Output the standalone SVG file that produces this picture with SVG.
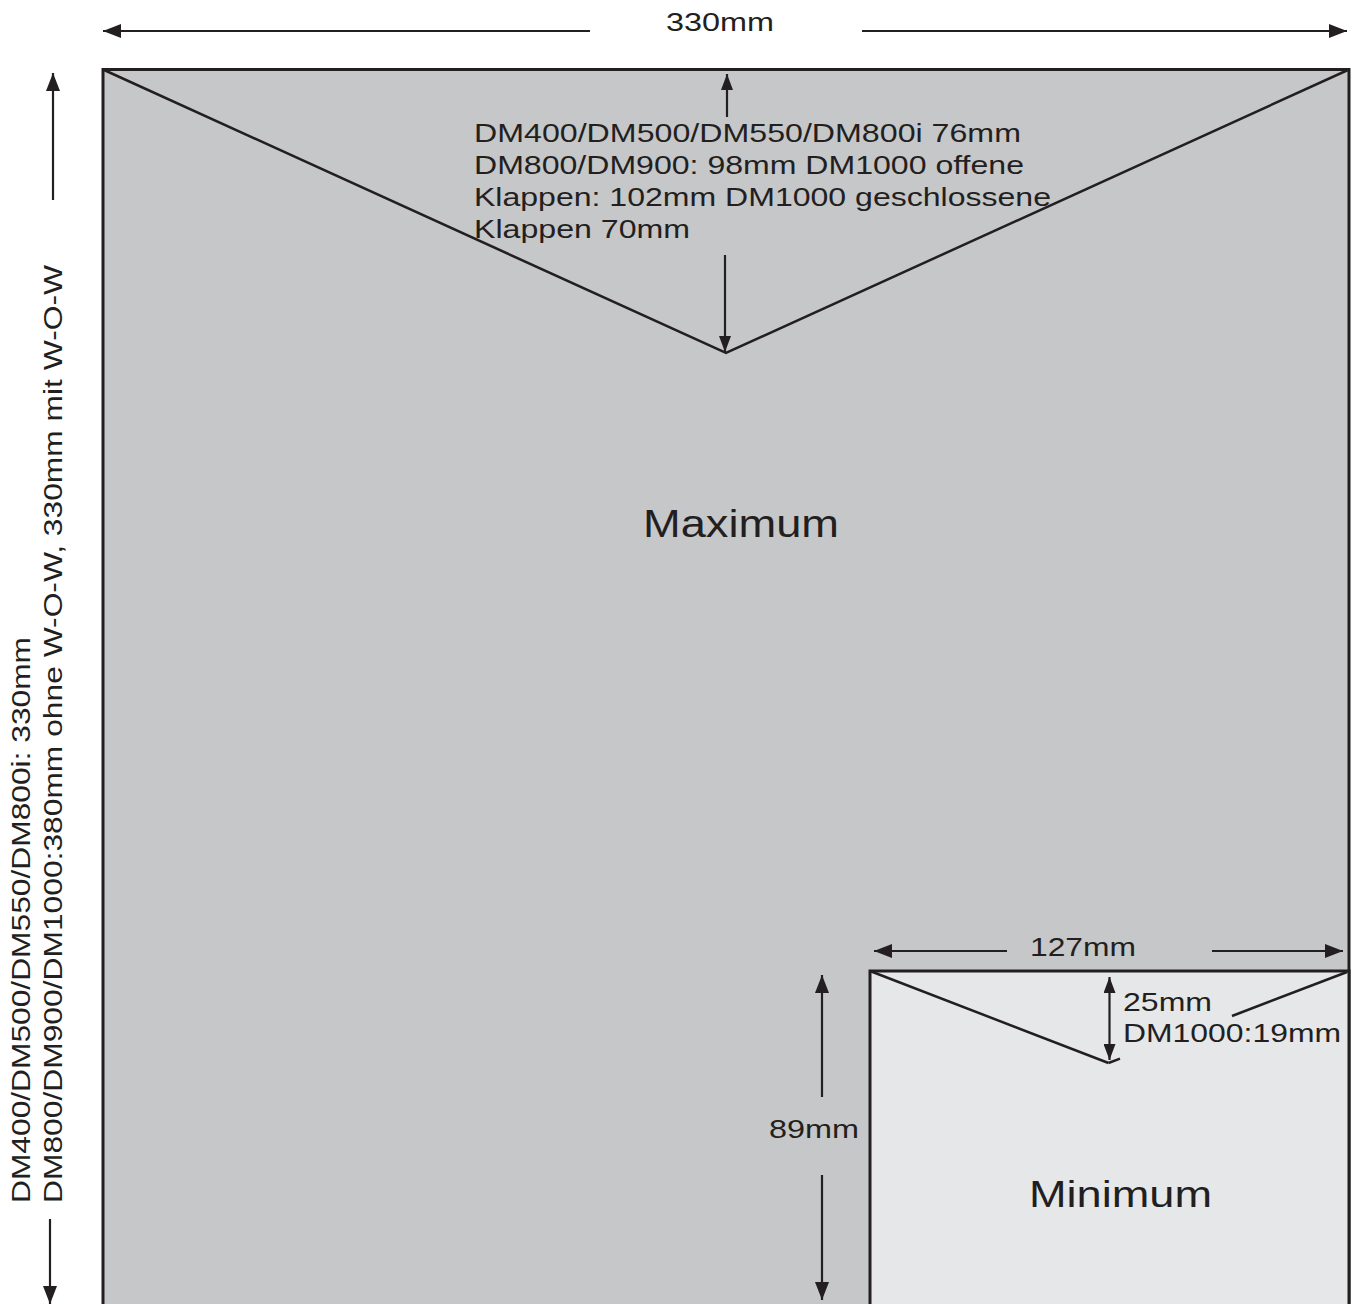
<svg xmlns="http://www.w3.org/2000/svg" width="1357" height="1304" viewBox="0 0 1357 1304">
  <defs>
    <marker id="ah" viewBox="0 0 18 14" refX="18" refY="7" markerWidth="18" markerHeight="14" markerUnits="userSpaceOnUse" orient="auto-start-reverse">
      <path d="M0,0 L18,7 L0,14 z" fill="#231f20"/>
    </marker>
    <marker id="ahs" viewBox="0 0 16 12" refX="16" refY="6" markerWidth="16" markerHeight="12" markerUnits="userSpaceOnUse" orient="auto-start-reverse">
      <path d="M0,0 L16,6 L0,12 z" fill="#231f20"/>
    </marker>
  </defs>
  <style>
    .t { font-family: "Liberation Sans", Arial, sans-serif; fill: #231f20; font-size: 26px; }
    .v { font-size: 26.5px; }
    .big { font-size: 38px; }
    .env { stroke: #231f20; stroke-width: 3; }
    .fold { stroke: #231f20; stroke-width: 2.5; fill: none; }
    .dim { stroke: #231f20; stroke-width: 2.2; fill: none; }
  </style>
  <rect width="1357" height="1304" fill="#ffffff"/>

  <g id="maximum">
    <rect class="env" x="103" y="69.5" width="1246" height="1250" fill="#c6c7c9"/>
    <polyline class="fold" points="103,69.5 726,353 1349,69.5"/>
    <text class="t big" transform="translate(643,537) scale(1.19,1)" x="0" y="0" textLength="164.7" lengthAdjust="spacingAndGlyphs">Maximum</text>
  </g>

  <g id="minimum">
    <rect class="env" x="870" y="971" width="479" height="350" fill="#e6e7e9"/>
    <line class="fold" x1="870" y1="971" x2="1108.5" y2="1063"/>
    <line class="fold" x1="1108.5" y1="1063" x2="1120" y2="1058.6"/>
    <line class="fold" x1="1232" y1="1016" x2="1347" y2="972"/>
    <text class="t" transform="translate(1029,1207) scale(1.25,1)" x="0" y="0" textLength="146.4" lengthAdjust="spacingAndGlyphs" style="font-size:36px">Minimum</text>
  </g>

  <g id="connectors">
    <line class="dim" x1="590" y1="31" x2="103" y2="31" marker-end="url(#ah)"/>
    <line class="dim" x1="862" y1="31" x2="1347" y2="31" marker-end="url(#ah)"/>
    <line class="dim" x1="53" y1="200" x2="53" y2="73" marker-end="url(#ah)"/>
    <line class="dim" x1="50" y1="1219" x2="50" y2="1304" marker-end="url(#ah)"/>
    <line class="dim" x1="727" y1="117" x2="727" y2="74" marker-end="url(#ahs)"/>
    <line class="dim" x1="725" y1="255" x2="725" y2="352" marker-end="url(#ahs)"/>
    <line class="dim" x1="1007" y1="951" x2="874" y2="951" marker-end="url(#ah)"/>
    <line class="dim" x1="1212" y1="951" x2="1343" y2="951" marker-end="url(#ah)"/>
    <line class="dim" x1="822" y1="1097" x2="822" y2="975" marker-end="url(#ah)"/>
    <line class="dim" x1="822" y1="1175" x2="822" y2="1300" marker-end="url(#ah)"/>
    <line class="dim" x1="1109.5" y1="977" x2="1109.5" y2="1060" marker-start="url(#ahs)" marker-end="url(#ahs)"/>
  </g>

  <g id="labels">
    <text class="t" transform="translate(666,31) scale(1.2,1)" x="0" y="0" textLength="90" lengthAdjust="spacingAndGlyphs">330mm</text>
    <text class="t" transform="translate(474,142) scale(1.2,1)" x="0" y="0" textLength="455.8" lengthAdjust="spacingAndGlyphs">DM400/DM500/DM550/DM800i 76mm</text>
    <text class="t" transform="translate(474,174) scale(1.2,1)" x="0" y="0" textLength="458.3" lengthAdjust="spacingAndGlyphs">DM800/DM900: 98mm DM1000 offene</text>
    <text class="t" transform="translate(474,206) scale(1.2,1)" x="0" y="0" textLength="480.8" lengthAdjust="spacingAndGlyphs">Klappen: 102mm DM1000 geschlossene</text>
    <text class="t" transform="translate(474,238) scale(1.2,1)" x="0" y="0" textLength="180" lengthAdjust="spacingAndGlyphs">Klappen 70mm</text>
    <text class="t v" transform="translate(29.5,1203) rotate(-90) scale(1.2,1)" x="0" y="0" textLength="471.7" lengthAdjust="spacingAndGlyphs">DM400/DM500/DM550/DM800i: 330mm</text>
    <text class="t v" transform="translate(61.5,1203) rotate(-90) scale(1.2,1)" x="0" y="0" textLength="781.7" lengthAdjust="spacingAndGlyphs">DM800/DM900/DM1000:380mm ohne W-O-W, 330mm mit W-O-W</text>
    <text class="t" transform="translate(1030,956) scale(1.2,1)" x="0" y="0" textLength="88.3" lengthAdjust="spacingAndGlyphs">127mm</text>
    <text class="t" transform="translate(769,1138) scale(1.2,1)" x="0" y="0" textLength="75" lengthAdjust="spacingAndGlyphs">89mm</text>
    <text class="t" transform="translate(1123,1011) scale(1.2,1)" x="0" y="0" textLength="74.2" lengthAdjust="spacingAndGlyphs">25mm</text>
    <text class="t" transform="translate(1123,1042) scale(1.2,1)" x="0" y="0" textLength="181.7" lengthAdjust="spacingAndGlyphs">DM1000:19mm</text>
  </g>
</svg>
